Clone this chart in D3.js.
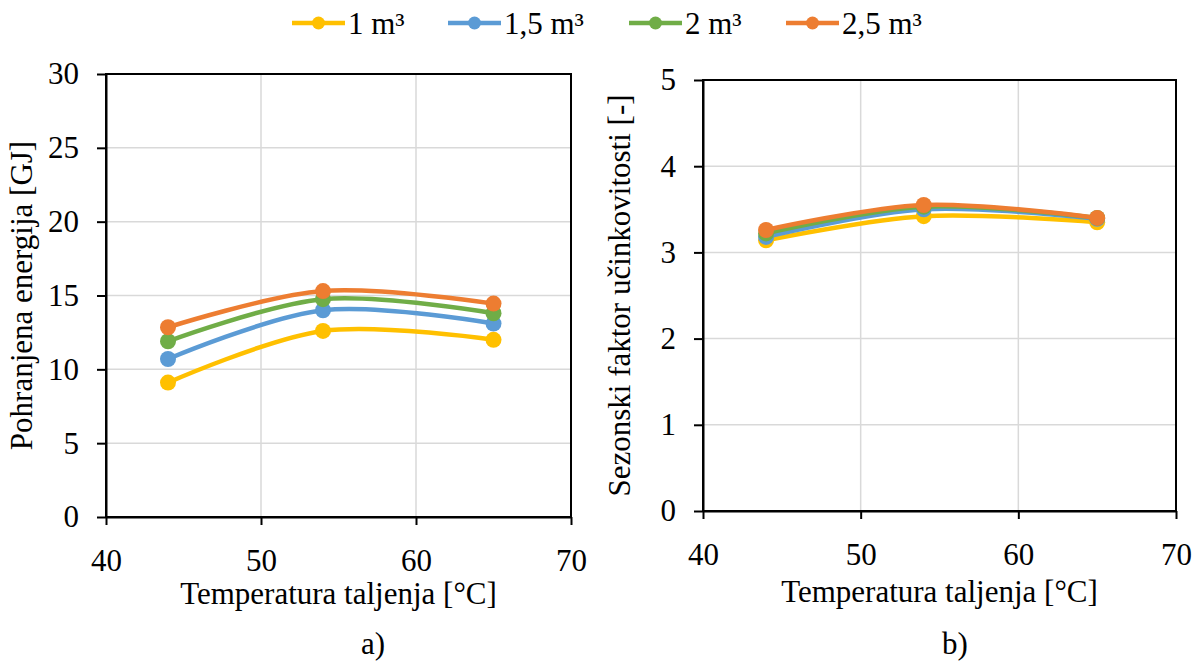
<!DOCTYPE html>
<html>
<head>
<meta charset="utf-8">
<script src="https://cdn.jsdelivr.net/npm/d3@7"></script>
<style>
  html, body { margin: 0; padding: 0; background: #fff; }
  svg { display: block; }
  svg text { font-family: 'Liberation Serif', 'Times New Roman', serif; fill: #000; }
</style>
</head>
<body>
<svg id="chart" width="1201" height="662"></svg>
<script>
// ---- data ----
const temperatures = [44, 54, 65];
const seriesNames = ["1 m³", "1,5 m³", "2 m³", "2,5 m³"];
const seriesColors = ["#FFC000", "#5B9BD5", "#70AD47", "#ED7D31"];
const energy_1 = [9.1, 12.6, 12.0];
const energy_15 = [10.7, 14.0, 13.1];
const energy_2 = [11.9, 14.75, 13.8];
const energy_25 = [12.85, 15.3, 14.45];
const spf_1 = [3.14, 3.42, 3.35];
const spf_15 = [3.18, 3.50, 3.39];
const spf_2 = [3.22, 3.53, 3.40];
const spf_25 = [3.26, 3.55, 3.40];
const xTicks = [40, 50, 60, 70];
const yTicksA = [0, 5, 10, 15, 20, 25, 30];
const yTicksB = [0, 1, 2, 3, 4, 5];

const SERIF = "'Liberation Serif', 'Times New Roman', serif";
const svg = d3.select("#chart").attr("font-family", SERIF);
const FONT = 31;

function panel(cfg) {
  const x = d3.scaleLinear().domain([40, 70]).range([cfg.left, cfg.right]);
  const y = d3.scaleLinear().domain(cfg.yDomain).range([cfg.bottom, cfg.top]);
  const g = svg.append("g");

  // gridlines
  g.append("g").selectAll("line.v").data(xTicks).join("line")
    .attr("x1", d => x(d)).attr("x2", d => x(d))
    .attr("y1", cfg.top).attr("y2", cfg.bottom)
    .attr("stroke", "#d9d9d9").attr("stroke-width", 1.5);
  g.append("g").selectAll("line.h").data(cfg.yTicks).join("line")
    .attr("x1", cfg.left).attr("x2", cfg.right)
    .attr("y1", d => y(d)).attr("y2", d => y(d))
    .attr("stroke", "#d9d9d9").attr("stroke-width", 1.5);

  // frame
  g.append("rect").attr("x", cfg.left).attr("y", cfg.top)
    .attr("width", cfg.right - cfg.left).attr("height", cfg.bottom - cfg.top)
    .attr("fill", "none").attr("stroke", "#000").attr("stroke-width", 2);

  // axes
  const fmt = d3.format("d");
  const xAxis = d3.axisBottom(x).tickValues(xTicks).tickFormat(fmt).tickSizeInner(8).tickSizeOuter(0).tickPadding(24);
  const gx = g.append("g").attr("transform", `translate(0,${cfg.bottom})`).call(xAxis);
  const yAxis = d3.axisLeft(y).tickValues(cfg.yTicks).tickFormat(fmt).tickSizeInner(9).tickSizeOuter(0).tickPadding(18);
  const gy = g.append("g").attr("transform", `translate(${cfg.left},0)`).call(yAxis);
  [gx, gy].forEach(a => {
    a.attr("font-family", SERIF).attr("font-size", FONT);
    a.select(".domain").attr("stroke", "#000").attr("stroke-width", 2);
    a.selectAll(".tick line").attr("stroke", "#000").attr("stroke-width", 2);
    a.selectAll(".tick text").attr("fill", "#000").attr("font-family", SERIF).attr("font-size", FONT);
  });
  gx.selectAll(".tick text").attr("dy", "0.71em");

  // series
  const line = d3.line().x((d, i) => x(temperatures[i])).y(d => y(d))
    .curve(d3.curveCatmullRom.alpha(0.5));
  cfg.series.forEach((vals, si) => {
    g.append("path").datum(vals).attr("d", line)
      .attr("fill", "none").attr("stroke", seriesColors[si]).attr("stroke-width", 4.5)
      .attr("stroke-linecap", "round");
    g.append("g").selectAll("circle").data(vals).join("circle")
      .attr("cx", (d, i) => x(temperatures[i])).attr("cy", d => y(d))
      .attr("r", 8).attr("fill", seriesColors[si]);
  });

  // titles
  g.append("text").attr("x", (cfg.left + cfg.right) / 2).attr("y", cfg.xTitleY)
    .attr("text-anchor", "middle").attr("font-family", SERIF).attr("font-size", FONT).text("Temperatura taljenja [°C]");
  g.append("text").attr("transform", `translate(${cfg.yTitleX},${(cfg.top + cfg.bottom) / 2}) rotate(-90)`)
    .attr("text-anchor", "middle").attr("font-family", SERIF).attr("font-size", FONT).text(cfg.yTitle);
  g.append("text").attr("x", cfg.labelX).attr("y", 654)
    .attr("text-anchor", "middle").attr("font-family", SERIF).attr("font-size", FONT).text(cfg.label);
}

panel({
  left: 106, right: 571, top: 74, bottom: 517,
  yDomain: [0, 30], yTicks: yTicksA,
  series: [energy_1, energy_15, energy_2, energy_25],
  yTitle: "Pohranjena energija [GJ]", yTitleX: 32, xTitleY: 604, label: "a)", labelX: 373
});
panel({
  left: 703, right: 1176, top: 80, bottom: 511,
  yDomain: [0, 5], yTicks: yTicksB,
  series: [spf_1, spf_15, spf_2, spf_25],
  yTitle: "Sezonski faktor učinkovitosti [-]", yTitleX: 630, xTitleY: 602, label: "b)", labelX: 955
});

// legend
const legendX = [292, 448, 629, 786];
const leg = svg.append("g");
seriesNames.forEach((name, i) => {
  const lx = legendX[i];
  leg.append("line").attr("x1", lx).attr("x2", lx + 53).attr("y1", 23).attr("y2", 23)
    .attr("stroke", seriesColors[i]).attr("stroke-width", 4.5);
  leg.append("circle").attr("cx", lx + 26.5).attr("cy", 23).attr("r", 6.5).attr("fill", seriesColors[i]);
  leg.append("text").attr("x", lx + 56).attr("y", 34).attr("font-family", SERIF).attr("font-size", FONT).text(name);
});
</script>
</body>
</html>
